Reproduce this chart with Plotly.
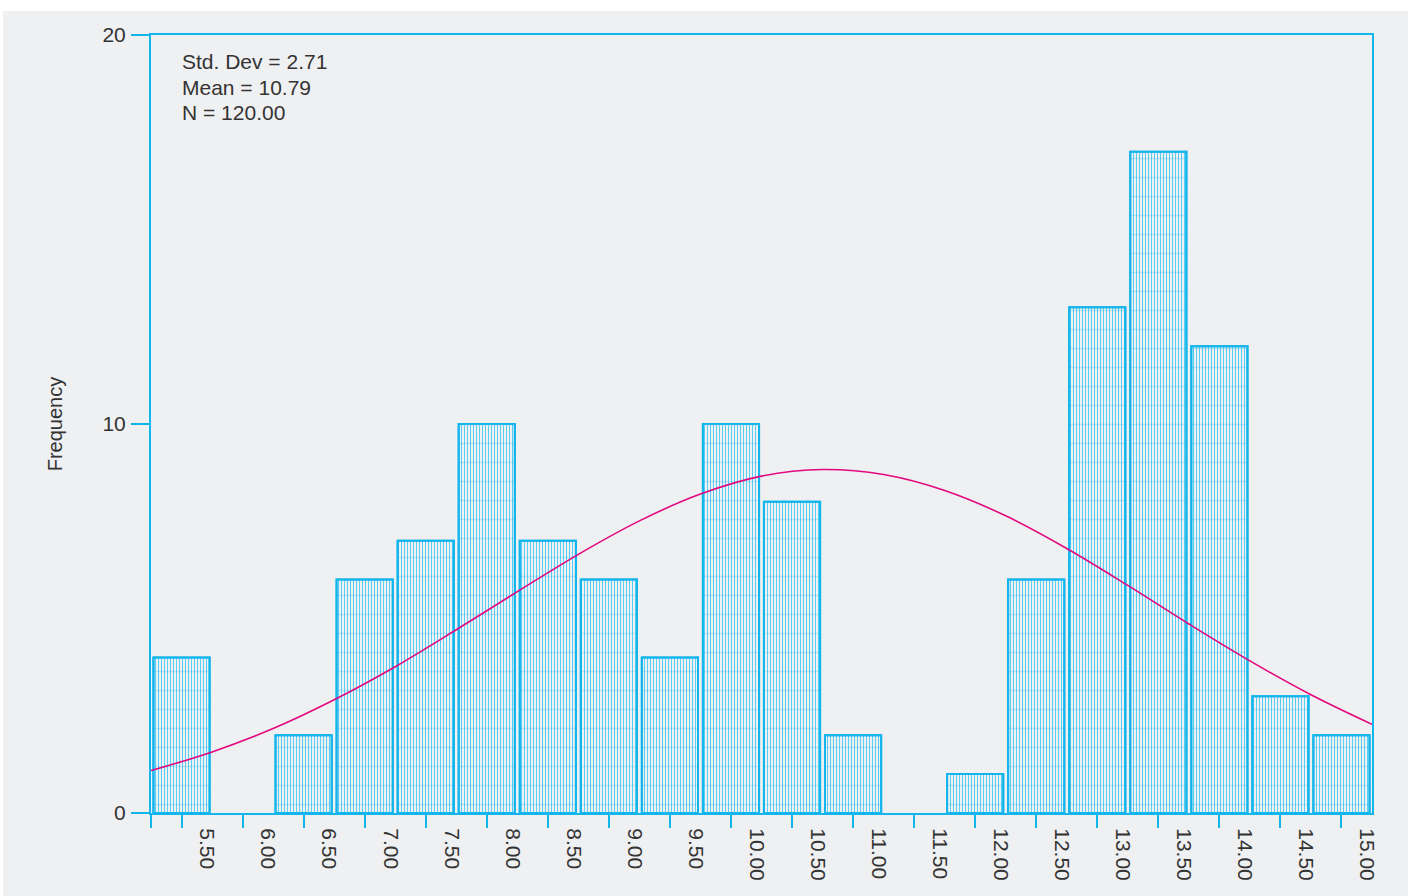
import plotly.graph_objects as go

# ---- data ----
bin_centers = [5.5, 6.0, 6.5, 7.0, 7.5, 8.0, 8.5, 9.0, 9.5, 10.0,
               10.5, 11.0, 11.5, 12.0, 12.5, 13.0, 13.5, 14.0, 14.5, 15.0]
counts = [4, 0, 2, 6, 7, 10, 7, 6, 4, 10,
          8, 2, 0, 1, 6, 13, 17, 12, 3, 2]
tick_labels = ["5.50", "6.00", "6.50", "7.00", "7.50", "8.00", "8.50", "9.00",
               "9.50", "10.00", "10.50", "11.00", "11.50", "12.00", "12.50",
               "13.00", "13.50", "14.00", "14.50", "15.00"]
curve_x = [5.25, 5.75, 6.25, 6.75, 7.25, 7.75, 8.25, 8.75, 9.25, 9.75, 10.25,
           10.75, 11.25, 11.75, 12.25, 12.75, 13.25, 13.75, 14.25, 14.75, 15.25]
curve_y = [1.09, 1.57, 2.17, 2.91, 3.76, 4.71, 5.69, 6.65, 7.51, 8.20, 8.66,
           8.83, 8.70, 8.29, 7.64, 6.80, 5.85, 4.86, 3.91, 3.04, 2.28]
stats_lines = ["Std. Dev = 2.71", "Mean = 10.79", "N = 120.00"]

# ---- styles ----
BG = "#eff0f2"
CYAN = "#12b5ec"
FONT = "Liberation Sans"
TXT = "#333333"

drawn = [c if c > 0 else None for c in counts]

fig = go.Figure()

fig.add_trace(go.Bar(
    x=bin_centers, y=drawn,
    marker=dict(
        color=BG,
        line=dict(color=CYAN, width=2),
        pattern=dict(shape="|", size=3, solidity=0.35,
                     fgcolor="#58cdf5", bgcolor=BG, fillmode="replace"),
    ),
    hoverinfo="skip", showlegend=False,
))
fig.add_trace(go.Bar(
    x=bin_centers, y=drawn,
    marker=dict(
        color="rgba(0,0,0,0)",
        line=dict(color=CYAN, width=2),
        pattern=dict(shape="-", size=19, solidity=0.08,
                     fgcolor="rgba(18,160,220,0.40)", fillmode="overlay"),
    ),
    hoverinfo="skip", showlegend=False,
))

fig.add_trace(go.Scatter(
    x=curve_x, y=curve_y, mode="lines",
    line=dict(color="#e3087f", width=1.6, shape="spline", smoothing=1.0),
    hoverinfo="skip", showlegend=False,
))

label_pos = [c + 0.21 for c in bin_centers]
minor_pos = [curve_x[0]] + bin_centers

fig.update_layout(
    width=1408, height=896,
    margin=dict(l=151, r=36, t=35, b=83, autoexpand=False),
    paper_bgcolor=BG, plot_bgcolor=BG,
    barmode="overlay", bargap=0.08,
    font=dict(family=FONT, size=21, color=TXT),
    xaxis=dict(
        range=[5.25, 15.25],
        showline=True, linecolor=CYAN, linewidth=2, mirror=True,
        showgrid=False, zeroline=False,
        tickmode="array", tickvals=label_pos, ticktext=tick_labels,
        ticks="", tickangle=90, ticklabelstandoff=9,
        tickfont=dict(family=FONT, size=21, color=TXT),
        minor=dict(tickmode="array", tickvals=minor_pos, ticks="outside",
                   ticklen=13, tickcolor=CYAN, tickwidth=1.5, showgrid=False),
    ),
    yaxis=dict(
        range=[0, 20],
        showline=True, linecolor=CYAN, linewidth=2, mirror=True,
        showgrid=False, zeroline=False,
        tickmode="array", tickvals=[0, 10, 20],
        ticks="outside", ticklen=18, tickcolor=CYAN, tickwidth=1.5,
        ticklabelstandoff=1,
        tickfont=dict(family=FONT, size=21, color=TXT),
        title=dict(text="Frequency", standoff=34,
                   font=dict(family=FONT, size=20, color=TXT)),
    ),
    shapes=[
        dict(type="rect", xref="paper", yref="paper",
             x0=-0.2, x1=1.1, y0=1 + 24 / 778, y1=1.1,
             fillcolor="white", line=dict(width=0), layer="below"),
        dict(type="rect", xref="paper", yref="paper",
             x0=-0.2, x1=-148 / 1221, y0=-0.2, y1=1.1,
             fillcolor="white", line=dict(width=0), layer="below"),
    ],
)

for i, line in enumerate(stats_lines):
    fig.add_annotation(
        xref="paper", yref="paper",
        x=29 / 1221, y=(813 - 62 - 25 * i) / 778,
        xanchor="left", yanchor="middle",
        text=line, showarrow=False,
        font=dict(family=FONT, size=21, color=TXT),
    )

fig.write_html("out.html",
               config={"displayModeBar": False},
               post_script="document.body.style.margin='0';document.body.style.overflow='hidden';")
